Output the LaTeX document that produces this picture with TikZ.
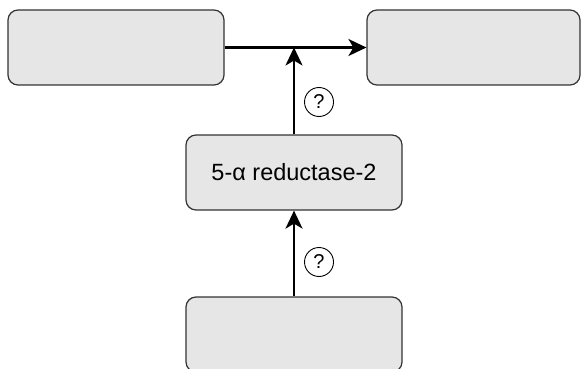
\documentclass[tikz,border=0pt]{standalone}
\usepackage{fontspec}
\setmainfont{Liberation Sans}
\usetikzlibrary{arrows.meta,positioning,calc}
\definecolor{boxfill}{HTML}{E6E6E6}
\definecolor{boxline}{HTML}{333333}
\begin{document}
\begin{tikzpicture}[x=1pt,y=-1pt]
    % Define Styles
        \tikzstyle{block} = [
            rectangle,
            rounded corners = 10pt,
            draw = boxline,
            fill = boxfill,
            align = center,
            minimum height = 75pt,
            minimum width = 216pt,
            line width = 1.2pt,
            font = \fontsize{23.5}{26}\selectfont
        ]
        \tikzstyle{query} = [
            circle,
            draw = black,
            line width = 0.9pt,
            inner sep = 0pt,
            minimum size = 29pt,
            font = \fontsize{20}{21}\selectfont
        ]
        \tikzstyle{line} = [
            draw,
            line width = 2.4pt,
            -{Stealth[length=18pt,width=17pt,inset=5pt]}
        ]
    \clip (0,0) rectangle (581,369);
    % Place nodes
        \node [block] (source) at (116,47.5) {};
        \node [block, minimum width = 213pt] (target) at (473.5,47.5) {};
        \node [block] (enzyme) at (294,172.5) {5-α reductase-2};
        \node [block] (origin) at (294,334.5) {};
        \coordinate (join) at (enzyme.north |- source.east);
        \node [query] (q1) at (319,102) {?};
        \node [query] (q2) at (319,262) {?};
    % Draw edges
        \path [line] (source) -- (target);
        \path [line] (enzyme) -- (join);
        \path [line] (origin) -- (enzyme);
\end{tikzpicture}
\end{document}
